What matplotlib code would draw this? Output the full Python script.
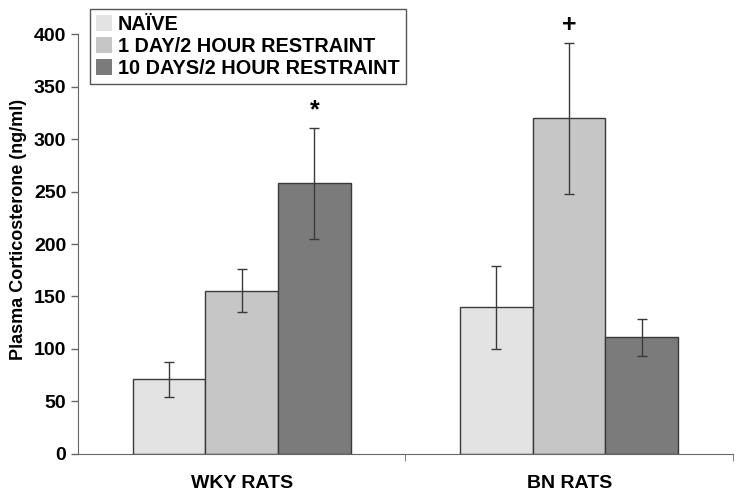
import numpy as np
import matplotlib
matplotlib.use('Agg')
import matplotlib.pyplot as plt
from matplotlib.patches import Patch

plt.rcParams['font.family'] = ['Liberation Sans', 'DejaVu Sans']
plt.rcParams['font.weight'] = 'bold'

groups = ['WKY RATS', 'BN RATS']
series = ['NAÏVE', '1 DAY/2 HOUR RESTRAINT', '10 DAYS/2 HOUR RESTRAINT']
means = [[71, 139.5],
         [155.5, 320],
         [258, 111]]
errs = [[17, 39.5],
        [20.5, 72],
        [53, 17.5]]
colors = ['#e3e3e3', '#c6c6c6', '#7b7b7b']
marks = [(2, 0, '*'), (1, 1, '+')]  # (series, group, symbol)

fig = plt.figure(figsize=(7.44, 4.96), dpi=100)
ax = fig.add_axes([0.105, 0.085, 0.88, 0.846])

x = np.arange(len(groups))
w = 0.222
for i, s in enumerate(series):
    pos = x + (i - 1) * w
    ax.bar(pos, means[i], width=w, color=colors[i], edgecolor='#3a3a3a',
           linewidth=1.0, label=s, zorder=2)
    ax.errorbar(pos, means[i], yerr=errs[i], fmt='none', ecolor='#3a3a3a',
                elinewidth=1.0, capsize=3.5, capthick=1.0, zorder=3)

for si, gi, sym in marks:
    top = means[si][gi] + errs[si][gi]
    ax.text(x[gi] + (si - 1) * w, top + 5, sym, ha='center', va='bottom',
            fontsize=18, fontweight='bold', clip_on=False)

ax.set_xlim(-0.5, 1.5)
ax.set_ylim(0, 400)
ax.set_yticks(range(0, 401, 50))
ax.set_xticks(x)
ax.set_xticklabels(groups, fontsize=14, fontweight='bold')
ax.set_xticks([0.5, 1.5], minor=True)
ax.tick_params(axis='x', which='major', length=0, pad=15)
ax.tick_params(axis='x', which='minor', length=5, direction='out', color='#666666')
ax.tick_params(axis='y', labelsize=14, length=5, color='#666666', width=1)
for lab in ax.get_yticklabels():
    lab.set_fontweight('bold')
ax.set_ylabel('Plasma Corticosterone (ng/ml)', fontsize=13, fontweight='bold')
ax.yaxis.set_label_coords(-0.078, 0.535)

ax.spines['top'].set_visible(False)
ax.spines['right'].set_visible(False)
ax.spines['left'].set_color('#666666')
ax.spines['bottom'].set_color('#666666')

handles = [Patch(facecolor=c, edgecolor='none') for c in colors]
leg = fig.legend(handles, series, loc='upper left', bbox_to_anchor=(0.121, 0.982),
                 fancybox=False, edgecolor='#555555', framealpha=1,
                 prop={'weight': 'bold', 'size': 14.3}, handlelength=0.8,
                 handleheight=0.8, handletextpad=0.3, labelspacing=0.15,
                 borderpad=0.3, borderaxespad=0)
leg.get_frame().set_linewidth(1.0)

fig.savefig('out.png', dpi=100)
